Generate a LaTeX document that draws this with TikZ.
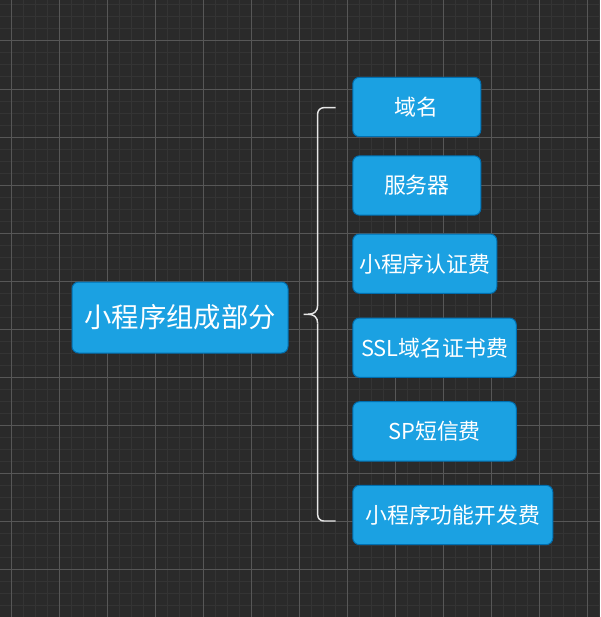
\documentclass[tikz,border=0pt]{standalone}
\usepackage{fontspec}
\setmainfont{Noto Sans CJK SC}
\usetikzlibrary{positioning, calc}
\definecolor{cbg}{HTML}{2A2A2A}
\definecolor{cminor}{HTML}{343434}
\definecolor{cmajor}{HTML}{575757}
\definecolor{cfill}{HTML}{1BA1E2}
\definecolor{cedge}{HTML}{006EAF}
\definecolor{cbrace}{HTML}{E6E6E6}
\tikzset{
  every picture/.style={line width=0.75pt},
  box/.style={draw=cedge, fill=cfill, text=white, rounded corners=5pt, inner sep=0pt, align=center},
  leaf/.style={box, minimum height=44.5pt, anchor=west, font=\fontsize{16.4pt}{19pt}\selectfont},
  brace/.style={draw=cbrace, line width=1.1pt},
}

\begin{document}
\begin{tikzpicture}[
    x=0.75pt, y=-0.75pt,
    minor/.style={draw=cminor, line width=0.75pt},
    major/.style={draw=cmajor, line width=0.75pt},
  ]
  % canvas and grid
  \fill[cbg] (0,0) rectangle (600,617);
  \useasboundingbox (0,0) rectangle (600,617);
  \foreach \x in {11,23,...,599} \draw[minor] (\x,0) -- (\x,617);
  \foreach \y in {5,17,...,617} \draw[minor] (0,\y) -- (600,\y);
  \foreach \x in {11,59,...,587} \draw[major] (\x,0) -- (\x,617);
  \foreach \y in {41,89,...,617} \draw[major] (0,\y) -- (600,\y);

  % root
  \node[box, minimum width=162pt, minimum height=53.25pt, font=\fontsize{20.5pt}{24pt}\selectfont] (root) at (180,317.5) {小程序组成部分};

  % parts
  \node[leaf, minimum width=96pt]    (ym)  at (352.3,107)   {域名};
  \node[leaf, minimum width=96pt]    (fwq) at (352.3,185.5) {服务器};
  \node[leaf, minimum width=108pt]   (rz)  at (352.3,263.7) {小程序认证费};
  \node[leaf, minimum width=122.6pt] (ssl) at (352.3,347.7) {SSL域名证书费};
  \node[leaf, minimum width=122.6pt] (sp)  at (352.3,431.4) {SP短信费};
  \node[leaf, minimum width=150pt]   (kf)  at (352.3,515)   {小程序功能开发费};

  % brace
  \coordinate (bt) at (335.5,107.7);
  \coordinate (bb) at (335.5,521);
  \coordinate (tip) at ($(root.east)+(15,-3.2)$);
  \draw[brace, rounded corners=4.5pt] (bt) -- (317.7,107.7) -- (317.7,305);
  \draw[brace] (317.7,305) .. controls (317.7,311.5) and (314,314.3) .. (308,314.3) -- (tip);
  \draw[brace] (308,314.3) .. controls (314,314.3) and (317.7,317.1) .. (317.7,323.6);
  \draw[brace, rounded corners=4.5pt] (317.7,323.6) -- (317.7,521) -- (bb);
\end{tikzpicture}
\end{document}
